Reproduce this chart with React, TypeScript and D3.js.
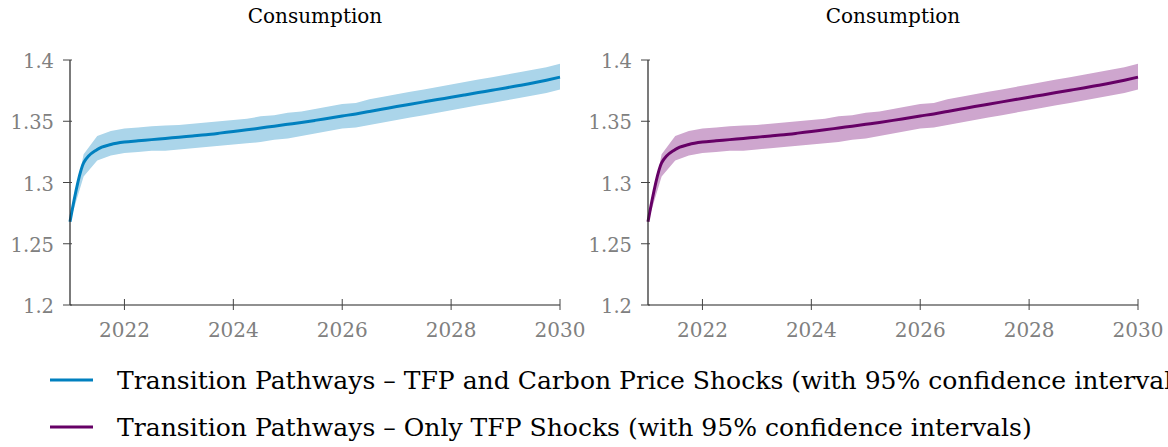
import React, { useEffect, useRef, useState } from "react";
import * as d3 from "d3";

const quarters: number[] = [
  2021, 2021.25, 2021.5, 2021.75, 2022, 2022.25, 2022.5, 2022.75, 2023, 2023.25, 2023.5, 2023.75,
  2024, 2024.25, 2024.5, 2024.75, 2025, 2025.25, 2025.5, 2025.75, 2026, 2026.25, 2026.5, 2026.75,
  2027, 2027.25, 2027.5, 2027.75, 2028, 2028.25, 2028.5, 2028.75, 2029, 2029.25, 2029.5, 2029.75, 2030,
];

const meanCarbon: number[] = [
  1.268, 1.316, 1.327, 1.331, 1.333, 1.334, 1.335, 1.336, 1.337, 1.338, 1.339, 1.3403,
  1.3417, 1.343, 1.3445, 1.346, 1.3475, 1.349, 1.3507, 1.3525, 1.3543, 1.356, 1.358, 1.36,
  1.362, 1.3639, 1.3658, 1.3677, 1.3696, 1.3715, 1.3734, 1.3753, 1.3772, 1.3792, 1.3812, 1.3835, 1.386,
];
const upperCarbon: number[] = [
  1.268, 1.323, 1.338, 1.342, 1.344, 1.345, 1.346, 1.3465, 1.347, 1.348, 1.349, 1.35,
  1.351, 1.352, 1.354, 1.355, 1.357, 1.358, 1.36, 1.362, 1.364, 1.365, 1.368, 1.37,
  1.372, 1.374, 1.376, 1.378, 1.38, 1.382, 1.384, 1.386, 1.388, 1.39, 1.392, 1.394, 1.397,
];
const lowerCarbon: number[] = [
  1.268, 1.305, 1.318, 1.322, 1.324, 1.325, 1.326, 1.326, 1.327, 1.328, 1.329, 1.33,
  1.331, 1.332, 1.333, 1.335, 1.336, 1.338, 1.34, 1.342, 1.344, 1.345, 1.347, 1.349,
  1.351, 1.353, 1.355, 1.357, 1.359, 1.361, 1.363, 1.365, 1.367, 1.369, 1.371, 1.373, 1.376,
];

const meanTFP: number[] = [...meanCarbon];
const upperTFP: number[] = [...upperCarbon];
const lowerTFP: number[] = [...lowerCarbon];

const xTicks: number[] = [2022, 2024, 2026, 2028, 2030];
const yTicks: number[] = [1.2, 1.25, 1.3, 1.35, 1.4];
const yTickLabels: string[] = ["1.2", "1.25", "1.3", "1.35", "1.4"];
const panelTitle = "Consumption";
const legendLabels: string[] = [
  "Transition Pathways – TFP and Carbon Price Shocks (with 95% confidence intervals)",
  "Transition Pathways – Only TFP Shocks (with 95% confidence intervals)",
];

const FONT = "'DejaVu Serif', serif";
const GRAY = "#808080";

type PanelProps = {
  left: number;
  mean: number[];
  upper: number[];
  lower: number[];
  lineColor: string;
  bandColor: string;
};

const PW = 490;
const TOP = 60;
const BOTTOM = 305;

function Panel({ left, mean, upper, lower, lineColor, bandColor }: PanelProps) {
  const x = d3.scaleLinear().domain([2021, 2030]).range([left, left + PW]);
  const y = d3.scaleLinear().domain([1.2, 1.4]).range([BOTTOM, TOP]);
  const idx = quarters.map((_, i) => i);
  const area = d3
    .area<number>()
    .x((i) => x(quarters[i]))
    .y0((i) => y(lower[i]))
    .y1((i) => y(upper[i]));
  const line = d3
    .line<number>()
    .x((i) => x(quarters[i]))
    .y((i) => y(mean[i]))
    .curve(d3.curveMonotoneX);
  return (
    <g>
      <text x={left + PW / 2} y={23} textAnchor="middle" style={{ fontFamily: FONT, fontSize: 20 }} fill="#000">
        {panelTitle}
      </text>
      <path d={area(idx) || ""} fill={bandColor} stroke="none" />
      <path d={line(idx) || ""} fill="none" stroke={lineColor} strokeWidth={3} strokeLinejoin="round" />
      <line x1={left} x2={left} y1={TOP} y2={BOTTOM} stroke="#222" strokeWidth={1.2} />
      <line x1={left} x2={left + PW} y1={BOTTOM} y2={BOTTOM} stroke="#222" strokeWidth={1.2} />
      {yTicks.map((t, i) => (
        <g key={"y" + i}>
          <line x1={left - 7} x2={left + 2} y1={y(t)} y2={y(t)} stroke="#444" strokeWidth={1} />
          <text
            x={left - 16}
            y={y(t)}
            dy="0.42em"
            textAnchor="end"
            style={{ fontFamily: FONT, fontSize: 19.5 }}
            fill={GRAY}
          >
            {yTickLabels[i]}
          </text>
        </g>
      ))}
      {xTicks.map((t, i) => (
        <g key={"x" + i}>
          <line x1={x(t)} x2={x(t)} y1={BOTTOM - 6} y2={BOTTOM + 5} stroke="#444" strokeWidth={1} />
          <text x={x(t)} y={337} textAnchor="middle" style={{ fontFamily: FONT, fontSize: 20 }} fill={GRAY}>
            {t}
          </text>
        </g>
      ))}
    </g>
  );
}

export default function App() {
  const ref = useRef<SVGTextElement>(null);
  const [legendSize, setLegendSize] = useState(23);
  useEffect(() => {
    if (ref.current) {
      const w = ref.current.getComputedTextLength();
      if (w > 0) {
        const target = 915;
        const next = (legendSize * target) / w;
        if (Math.abs(next - legendSize) > 0.05) setLegendSize(next);
      }
    }
  }, [legendSize]);
  return (
    <svg width={1168} height={447} style={{ position: "absolute", left: 0, top: 0 }}>
      <rect width={1168} height={447} fill="#fff" />
      <Panel left={70} mean={meanCarbon} upper={upperCarbon} lower={lowerCarbon} lineColor="#0080BF" bandColor="#ABD5EA" />
      <Panel left={648} mean={meanTFP} upper={upperTFP} lower={lowerTFP} lineColor="#660066" bandColor="#CEA6CE" />
      <line x1={50} x2={93} y1={380} y2={380} stroke="#0080BF" strokeWidth={3} />
      <text x={117} y={389} style={{ fontFamily: FONT, fontSize: legendSize }} fill="#000">
        {legendLabels[0]}
      </text>
      <line x1={50} x2={93} y1={427} y2={427} stroke="#660066" strokeWidth={3} />
      <text ref={ref} x={117} y={436} style={{ fontFamily: FONT, fontSize: legendSize }} fill="#000">
        {legendLabels[1]}
      </text>
    </svg>
  );
}
